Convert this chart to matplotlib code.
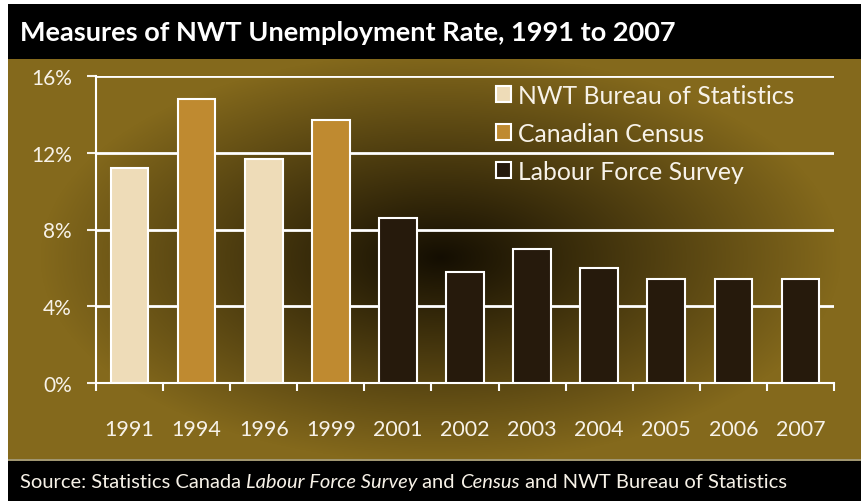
import numpy as np
import matplotlib
matplotlib.use('Agg')
import matplotlib.pyplot as plt
from matplotlib.patches import Rectangle, Patch

years = ['1991', '1994', '1996', '1999', '2001', '2002', '2003', '2004', '2005', '2006', '2007']
rates = [11.2, 14.8, 11.7, 13.7, 8.6, 5.8, 7.0, 6.0, 5.4, 5.4, 5.4]
sources = ['nwt', 'census', 'nwt', 'census', 'lfs', 'lfs', 'lfs', 'lfs', 'lfs', 'lfs', 'lfs']
source_names = {'nwt': 'NWT Bureau of Statistics',
				'census': 'Canadian Census',
				'lfs': 'Labour Force Survey'}
source_colors = {'nwt': '#EEDCB8', 'census': '#BF8A30', 'lfs': '#261A0C'}
yticks = [0, 4, 8, 12, 16]

W, H = 862, 502
plt.rcParams['font.family'] = ['Lato', 'DejaVu Sans']
txt = '#F7F2E8'

def box(x0, y0, x1, y1):
	# pixel box (from top-left) -> figure fraction rect
	return [x0 / W, 1 - y1 / H, (x1 - x0) / W, (y1 - y0) / H]

def main():
	fig = plt.figure(figsize=(W / 100, H / 100), dpi=100, facecolor='white')

	# title and source bars
	for x0, y0, x1, y1 in [(8, 5, 862, 60), (8, 462, 862, 502)]:
		r = box(x0, y0, x1, y1)
		fig.add_artist(Rectangle((r[0], r[1]), r[2], r[3], transform=fig.transFigure,
								 facecolor='black', edgecolor='none'))
	r = box(8, 460, 862, 462)
	fig.add_artist(Rectangle((r[0], r[1]), r[2], r[3], transform=fig.transFigure,
							 facecolor='#A09670', edgecolor='none'))

	# gold panel with dark radial shading
	bg = fig.add_axes(box(8, 60, 862, 460))
	xx, yy = np.meshgrid(np.arange(854), np.arange(400))
	d = np.sqrt(((xx - 432) / 400.0) ** 2 + ((yy - 198) / 205.0) ** 2)
	t = np.clip(d, 0, 1)[..., None]
	dark = np.array([0x14, 0x0E, 0x02]) / 255
	gold = np.array([0x84, 0x69, 0x1C]) / 255
	bg.imshow(dark + (gold - dark) * t, aspect='auto', interpolation='bilinear')
	bg.axis('off')

	fig.text(20 / W, 1 - 33 / H, 'Measures of NWT Unemployment Rate, 1991 to 2007',
			 color='white', fontsize=19.5, fontweight='bold', va='center', ha='left')
	src = [('Source: Statistics Canada ', 'normal'), ('Labour Force Survey', 'italic'),
		   (' and ', 'normal'), ('Census', 'italic'), (' and NWT Bureau of Statistics', 'normal')]
	renderer = fig.canvas.get_renderer()
	x = 20 / W
	for s, style in src:
		t_ = fig.text(x, 1 - 483 / H, s, color=txt, fontsize=14.5, style=style,
					  va='center', ha='left')
		bb = t_.get_window_extent(renderer=renderer)
		x += bb.width / W

	ax = fig.add_axes(box(96, 77, 834, 384))
	ax.set_facecolor('none')
	pos = np.arange(len(years))
	ax.bar(pos, rates, width=0.56, color=[source_colors[s] for s in sources],
		   edgecolor='white', linewidth=1.5, zorder=3)
	ax.set_xlim(-0.5, len(years) - 0.5)
	ax.set_ylim(0, 16)
	ax.set_yticks(yticks)
	ax.set_yticklabels([f'{v}%' for v in yticks])
	ax.yaxis.grid(True, color='white', linewidth=2)
	ax.set_axisbelow(True)
	for side in ['top', 'right']:
		ax.spines[side].set_visible(False)
	for side in ['left', 'bottom']:
		ax.spines[side].set_color('white')
		ax.spines[side].set_linewidth(1.5)
	ax.tick_params(axis='y', colors=txt, labelsize=15, length=6.5, width=1.5, pad=11)
	ax.set_xticks(np.arange(-0.5, len(years), 1))
	ax.set_xticklabels([])
	ax.set_xticks(pos, minor=True)
	ax.set_xticklabels(years, minor=True)
	ax.tick_params(axis='x', which='major', colors='white', length=6, width=1.5)
	ax.tick_params(axis='x', which='minor', colors=txt, labelsize=15.5, length=0, pad=26)

	handles = [Patch(facecolor=source_colors[k], edgecolor='white', linewidth=1.5)
			   for k in ['nwt', 'census', 'lfs']]
	leg = fig.legend(handles, [source_names[k] for k in ['nwt', 'census', 'lfs']],
					 loc='upper left', bbox_to_anchor=(496 / W, 1 - 85 / H), frameon=False,
					 fontsize=17.8, handlelength=0.61, handleheight=0.61,
					 handletextpad=0.3, labelspacing=0.6, borderpad=0, borderaxespad=0)
	for t_ in leg.get_texts():
		t_.set_color(txt)

	fig.savefig('out.png', dpi=100, facecolor='white')

if __name__ == '__main__':
	main()
